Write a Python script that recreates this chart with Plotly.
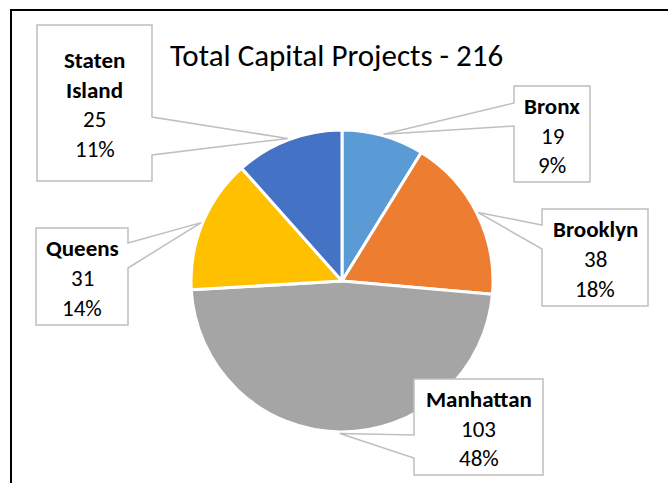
import math
import plotly.graph_objects as go

boroughs = ["Bronx", "Brooklyn", "Manhattan", "Queens", "Staten Island"]
projects = [19, 38, 103, 31, 25]
pct_labels = ["9%", "18%", "48%", "14%", "11%"]
colors = ["#5B9BD5", "#ED7D31", "#A5A5A5", "#FFC000", "#4472C4"]
title_text = "Total Capital Projects - 216"

W, H = 668, 483
cx, cy, r = 342, 281, 151          # pie centre / radius in pixels
FONT = "Calibri, Carlito, Lato, sans-serif"

def px(x):
    return x / W

def py(y):
    return 1 - y / H

# callout boxes: x0, y0, x1, y1, side of the pointer, pointer base on that edge, name lines
boxes = {
    "Bronx": (514, 86, 590, 182, "left", (103, 126), ["Bronx"]),
    "Brooklyn": (542, 209, 648, 306, "left", (225, 249), ["Brooklyn"]),
    "Manhattan": (414, 379, 543, 475, "left", (435, 458), ["Manhattan"]),
    "Queens": (36, 228, 128, 325, "right", (243, 268), ["Queens"]),
    "Staten Island": (37, 25, 152, 181, "right", (117, 155), ["Staten", "Island"]),
}

fig = go.Figure()
fig.add_trace(go.Pie(
    labels=boroughs, values=projects, sort=False, direction="clockwise", rotation=0,
    marker=dict(colors=colors, line=dict(color="white", width=3)),
    textinfo="none", showlegend=False,
    domain=dict(x=[px(cx - r), px(cx + r)], y=[py(cy + r), py(cy - r)]),
))

shapes = [dict(type="rect", xref="paper", yref="paper", x0=px(11), y0=py(10), x1=px(700), y1=py(520),
               line=dict(color="black", width=2), fillcolor="rgba(0,0,0,0)")]
annotations = []
total = sum(projects)
cum = 0
for name, val, pct in zip(boroughs, projects, pct_labels):
    mid = (cum + val / 2) / total * 2 * math.pi
    cum += val
    tx = cx + 1.01 * r * math.sin(mid)
    ty = cy - 1.01 * r * math.cos(mid)
    x0, y0, x1, y1, side, (b1, b2), name_lines = boxes[name]
    if side == "right":
        pts = [(x0, y0), (x1, y0), (x1, b1), (tx, ty), (x1, b2), (x1, y1), (x0, y1)]
    else:
        pts = [(x0, y0), (x1, y0), (x1, y1), (x0, y1), (x0, b2), (tx, ty), (x0, b1)]
    path = "M " + " L ".join(f"{px(a):.5f},{py(b):.5f}" for a, b in pts) + " Z"
    shapes.append(dict(type="path", xref="paper", yref="paper", path=path,
                       fillcolor="white", line=dict(color="#BFBFBF", width=1.5)))
    lines = [(f"<b>{t}</b>") for t in name_lines] + [str(val), pct]
    n = len(lines)
    mid_y = (y0 + y1) / 2 + 1.5
    for i, t in enumerate(lines):
        ly = mid_y + (i - (n - 1) / 2) * 29.5
        annotations.append(dict(text=t, x=px((x0 + x1) / 2), y=py(ly), xref="paper", yref="paper",
                                showarrow=False, xanchor="center", yanchor="middle",
                                font=dict(family=FONT, size=23, color="black")))

annotations.append(dict(text=title_text, x=px(337), y=py(55), xref="paper", yref="paper",
                        showarrow=False, xanchor="center", yanchor="middle",
                        font=dict(family=FONT, size=31, color="black")))

fig.update_layout(
    width=W, height=H, margin=dict(l=0, r=0, t=0, b=0),
    paper_bgcolor="white", plot_bgcolor="white",
    shapes=shapes, annotations=annotations,
)
fig.write_html("out.html", config={"displayModeBar": False},
               post_script="document.body.style.margin='0';")
